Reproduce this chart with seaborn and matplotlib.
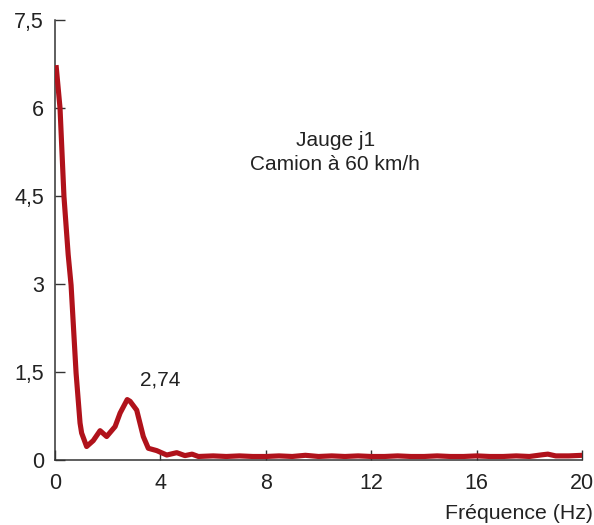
import matplotlib
matplotlib.use("Agg")
import matplotlib.pyplot as plt
import seaborn as sns
import pandas as pd

# Spectre de la jauge j1 (camion à 60 km/h)
freq_hz = [0.04, 0.19, 0.34, 0.5, 0.61, 0.8, 0.95, 1.01, 1.2, 1.45, 1.71, 1.96,
           2.28, 2.47, 2.74, 2.85, 3.1, 3.35, 3.54, 3.86, 4.24, 4.62, 4.93,
           5.2, 5.44, 6.0, 6.5, 7.0, 7.5, 8.0, 8.5, 9.0, 9.5, 10.0, 10.5,
           11.0, 11.5, 12.0, 12.5, 13.0, 13.5, 14.0, 14.5, 15.0, 15.5, 16.0,
           16.5, 17.0, 17.5, 18.0, 18.5, 18.7, 19.0, 19.5, 20.0]
amplitude = [6.73, 6.0, 4.49, 3.5, 2.98, 1.48, 0.63, 0.46, 0.23, 0.33, 0.5, 0.4,
             0.57, 0.8, 1.03, 1.0, 0.85, 0.4, 0.2, 0.16, 0.085, 0.125, 0.075,
             0.1, 0.06, 0.07, 0.06, 0.07, 0.06, 0.06, 0.07, 0.06, 0.08, 0.06, 0.07,
             0.06, 0.07, 0.06, 0.06, 0.07, 0.06, 0.06, 0.07, 0.06, 0.06, 0.07,
             0.06, 0.06, 0.07, 0.06, 0.09, 0.1, 0.07, 0.07, 0.08]

y_ticks = [0, 1.5, 3, 4.5, 6, 7.5]
y_tick_labels = ["0", "1,5", "3", "4,5", "6", "7,5"]
x_ticks = [0, 4, 8, 12, 16, 20]
peak_label = "2,74"

df = pd.DataFrame({"f": freq_hz, "a": amplitude})

sns.set_style("ticks")
plt.rcParams["font.family"] = ["Liberation Sans", "DejaVu Sans"]

fig = plt.figure(figsize=(5.94, 5.25), dpi=100)
ax = fig.add_axes([0.0926, 0.1238, 0.8874, 0.8382])

sns.lineplot(data=df, x="f", y="a", ax=ax, color="#b0121b", linewidth=3.7,
             solid_joinstyle="round", solid_capstyle="butt", zorder=3)

ax.set_xlim(0, 20)
ax.set_ylim(0, 7.5)
ax.set_xticks(x_ticks)
ax.set_xticklabels([str(t) for t in x_ticks])
ax.set_yticks(y_ticks)
ax.set_yticklabels(y_tick_labels)

sns.despine(ax=ax)
for side in ("left", "bottom"):
    ax.spines[side].set_linewidth(1.1)
    ax.spines[side].set_color("#333333")
ax.tick_params(direction="in", length=7, width=1.0, colors="#333333",
               labelcolor="#222222", labelsize=15.5)
ax.tick_params(axis="x", pad=9)
ax.tick_params(axis="y", pad=8)

ax.set_ylabel("")
ax.set_xlabel("Fréquence (Hz)", fontsize=15.3, color="#222222", loc="right")
ax.xaxis.set_label_coords(1.02, -0.1)

ax.text(10.63, 5.45, "Jauge j1", ha="center", va="center", fontsize=15,
        color="#222222")
ax.text(10.63, 5.03, "Camion à 60 km/h", ha="center", va="center",
        fontsize=15, color="#222222")
ax.text(3.98, 1.37, peak_label, ha="center", va="center", fontsize=15,
        color="#222222")

fig.savefig("out.png", dpi=100)
